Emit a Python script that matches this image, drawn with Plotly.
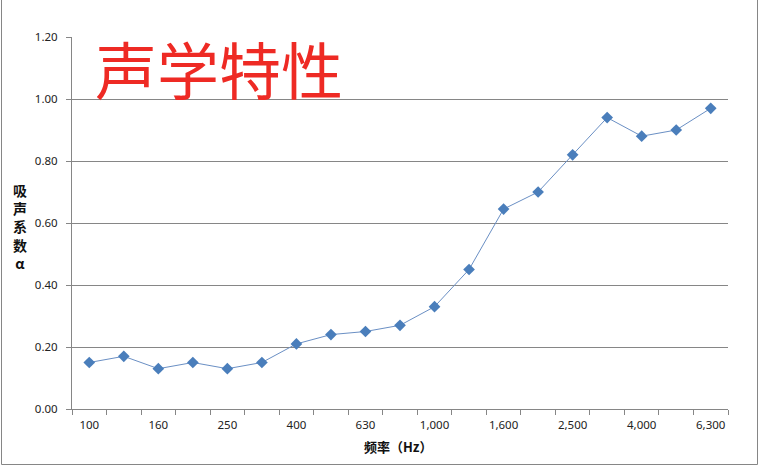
import plotly.graph_objects as go

freqs = ["100", "125", "160", "200", "250", "315", "400", "500", "630", "800",
         "1,000", "1,250", "1,600", "2,000", "2,500", "3,150", "4,000", "5,000", "6,300"]
alpha = [0.15, 0.17, 0.13, 0.15, 0.13, 0.15, 0.21, 0.24, 0.25, 0.27,
         0.33, 0.45, 0.645, 0.70, 0.82, 0.94, 0.88, 0.90, 0.97]
y_ticks = [0.0, 0.2, 0.4, 0.6, 0.8, 1.0, 1.2]

W, H = 760, 467
L, R, T, B = 72, 32, 37, 58
pw, ph = W - L - R, H - T - B

def px(x):
    return (x - L) / pw

def py(y):
    return (H - B - y) / ph

idx = list(range(len(freqs)))

fig = go.Figure()
fig.add_trace(go.Scatter(
    x=idx, y=alpha, mode="lines+markers",
    line=dict(color="#6A8FC4", width=1),
    marker=dict(symbol="diamond", size=9, color="#4A7EBB"),
    hovertemplate="%{text} Hz: %{y:.2f}<extra></extra>",
    text=freqs,
))

fig.update_layout(
    width=W, height=H,
    margin=dict(l=L, r=R, t=T, b=B),
    paper_bgcolor="white", plot_bgcolor="white",
    showlegend=False,
    font=dict(family="Noto Sans, DejaVu Sans", size=11.5, color="#222222"),
    xaxis=dict(
        range=[-0.5, len(freqs) - 0.5],
        tickvals=idx[::2], ticktext=freqs[::2],
        ticks="", showgrid=False, zeroline=False,
        showline=True, linecolor="#868686", linewidth=1,
        minor=dict(tickvals=[i - 0.5 for i in range(len(freqs) + 1)],
                   ticks="outside", ticklen=5, tickcolor="#868686", showgrid=False),
        ticklabelstandoff=5,
    ),
    yaxis=dict(
        range=[0, 1.2], tickvals=y_ticks, tickformat=".2f",
        ticks="outside", ticklen=5, tickcolor="#868686",
        showgrid=True, gridcolor="#868686", gridwidth=1,
        zeroline=False, showline=True, linecolor="#868686", linewidth=1,
        ticklabelstandoff=6,
    ),
)

fig.add_annotation(
    text="声学特性", xref="paper", yref="paper", x=px(93), y=py(68),
    xanchor="left", yanchor="middle", showarrow=False,
    font=dict(family="Noto Sans CJK SC", size=62, color="#EE2A24"),
)
fig.add_annotation(
    text="<b>吸<br>声<br>系<br>数<br>α</b>", xref="paper", yref="paper",
    x=px(20), y=py(226), xanchor="center", yanchor="middle", showarrow=False,
    font=dict(family="Noto Sans CJK SC", size=14, color="#111111"),
)
fig.add_annotation(
    text="<b>频率（Hz）</b>", xref="paper", yref="paper",
    x=px(398), y=py(447), xanchor="center", yanchor="middle", showarrow=False,
    font=dict(family="Noto Sans CJK SC", size=13, color="#111111"),
)

# outer frame: left, right and bottom edges only
frame = dict(color="#868686", width=1)
fig.add_shape(type="line", xref="paper", yref="paper",
              x0=px(1.5), x1=px(1.5), y0=py(0), y1=py(464.5), line=frame)
fig.add_shape(type="line", xref="paper", yref="paper",
              x0=px(757.5), x1=px(757.5), y0=py(0), y1=py(464.5), line=frame)
fig.add_shape(type="line", xref="paper", yref="paper",
              x0=px(1.5), x1=px(757.5), y0=py(464.5), y1=py(464.5), line=frame)

fig.write_html("out.html", config={"displayModeBar": False},
               post_script="document.body.style.margin='0';")
